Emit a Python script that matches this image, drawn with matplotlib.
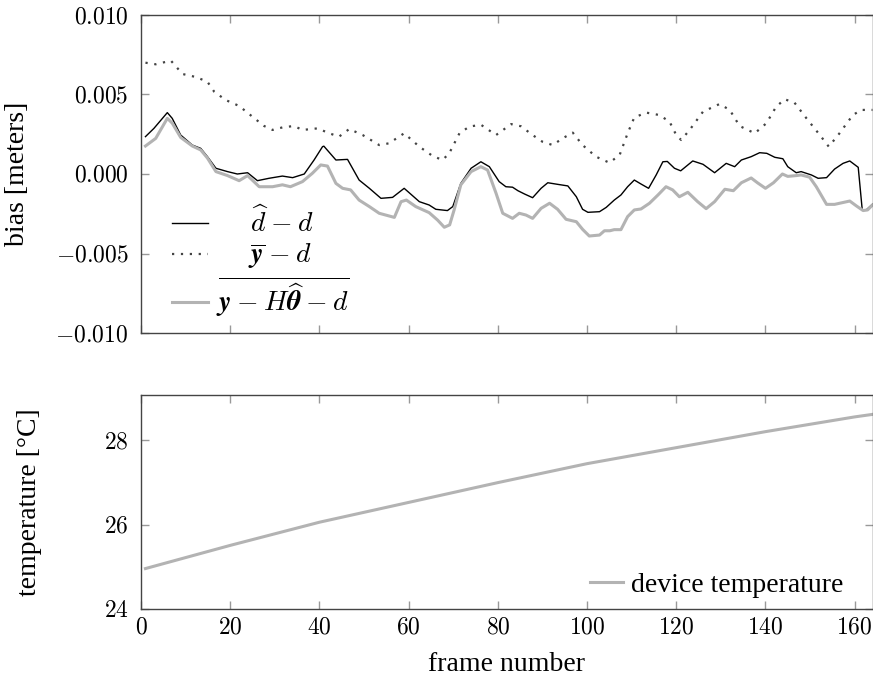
import matplotlib
matplotlib.use('Agg')
import matplotlib.pyplot as plt
from matplotlib.ticker import FuncFormatter, MultipleLocator

# Данные, считанные с графика
# d_hat - d (чёрная линия)
x_dhat = [1.0, 2.9, 5.9, 7.0, 8.9, 11.5, 13.4, 14.9, 16.8, 19.4, 21.6, 23.9, 26.1, 28.7, 31.7,
          34.0, 36.6, 38.8, 40.7, 41.0, 43.7, 46.3, 48.9, 51.2, 53.8, 56.4, 59.0, 62.4, 64.6,
          66.1, 68.7, 69.9, 71.7, 74.0, 76.2, 78.1, 80.3, 81.8, 83.3, 84.5, 86.0, 87.8, 89.7,
          91.2, 93.4, 95.7, 97.6, 99.0, 100.2, 102.8, 104.3, 106.1, 107.6, 109.1, 110.6,
          112.1, 113.8, 115.5, 117.0, 118.0, 119.6, 121.0, 123.7, 126.0, 128.6, 131.2, 133.1,
          134.6, 136.8, 138.7, 140.3, 142.1, 143.9, 145.0, 146.9, 148.0, 150.3, 151.8, 153.7,
          155.5, 157.4, 158.9, 160.8, 161.7, 162.6, 163.8, 164.0]
y_dhat = [0.00235, 0.00287, 0.00386, 0.0035, 0.00245, 0.00182, 0.00161, 0.00109, 0.00036,
          0.00015, 0.0, 0.00008, -0.00042, -0.00027, -0.00013, -0.00023, 0.0, 0.00088,
          0.00172, 0.00175, 0.00088, 0.00092, -0.00038, -0.0009, -0.00153, -0.00147, -0.0009,
          -0.00174, -0.00195, -0.00222, -0.0023, -0.00205, -0.00059, 0.00036, 0.00077,
          0.00046, -0.00048, -0.0008, -0.00083, -0.00105, -0.00126, -0.00149, -0.0009,
          -0.00055, -0.00065, -0.00075, -0.00143, -0.00222, -0.00241, -0.00237, -0.0021,
          -0.00164, -0.00132, -0.0008, -0.00038, -0.00063, -0.0009, -0.00006, 0.00077,
          0.00079, 0.00036, 0.0002, 0.00082, 0.00061, 0.00008, 0.00067, 0.00046, 0.00088,
          0.00109, 0.00134, 0.0013, 0.00105, 0.00096, 0.00046, 0.00008, 0.00015, -0.00006,
          -0.00027, -0.00023, 0.00031, 0.00067, 0.00082, 0.00042, -0.00226, -0.00226,
          -0.00195, -0.0019]

# y_bar - d (пунктир)
x_ybar = [1.0, 3.3, 6.7, 9.3, 12.3, 14.9, 16.4, 19.0, 22.0, 25.0, 27.6, 29.5, 31.7, 34.3,
          36.2, 39.6, 42.2, 44.4, 46.7, 49.7, 53.4, 55.6, 59.0, 62.4, 65.4, 67.6, 69.1, 71.4,
          73.6, 76.2, 79.6, 83.0, 85.2, 87.8, 90.0, 92.3, 94.5, 96.8, 99.0, 102.0, 105.0,
          107.3, 109.1, 110.6, 113.3, 116.2, 118.5, 120.0, 121.1, 123.0, 126.0, 129.7, 132.0,
          134.2, 137.6, 140.2, 142.4, 144.3, 146.5, 149.2, 152.2, 154.2, 156.6, 159.6, 161.5,
          164.0]
y_ybar = [0.0070, 0.0069, 0.00713, 0.00629, 0.0061, 0.0058, 0.00518, 0.00465, 0.00428,
          0.0036, 0.00302, 0.00277, 0.00293, 0.00302, 0.00277, 0.00287, 0.00256, 0.00235,
          0.00283, 0.00245, 0.00182, 0.00193, 0.00256, 0.00172, 0.00113, 0.00088, 0.0013,
          0.00256, 0.00298, 0.0031, 0.00245, 0.00314, 0.0030, 0.00245, 0.00203, 0.00182,
          0.00224, 0.0026, 0.00182, 0.00109, 0.00071, 0.00119, 0.00256, 0.00356, 0.00386,
          0.00371, 0.00329, 0.00245, 0.00214, 0.00277, 0.00392, 0.0044, 0.00403, 0.00302,
          0.00256, 0.00319, 0.00423, 0.0047, 0.00449, 0.0035, 0.00245, 0.00172, 0.00256,
          0.00371, 0.00403, 0.00403]

# y - H*theta_hat - d (серая линия)
x_corr = [1.0, 3.3, 5.9, 7.0, 8.9, 11.5, 13.4, 14.9, 16.8, 19.4, 22.0, 23.9, 26.5, 29.5,
          31.7, 33.5, 36.2, 38.4, 40.3, 41.8, 43.7, 45.2, 47.0, 48.9, 51.2, 53.4, 56.8, 58.3,
          59.5, 61.6, 64.6, 66.5, 68.0, 69.2, 70.2, 71.7, 74.0, 76.2, 77.7, 79.6, 81.1, 83.3,
          84.8, 86.3, 87.8, 89.7, 91.6, 93.4, 95.3, 97.6, 99.0, 100.5, 102.8, 103.9, 105.1,
          106.1, 107.6, 109.1, 110.6, 112.1, 114.0, 115.9, 117.7, 119.2, 120.7, 122.6, 124.8,
          126.7, 128.6, 130.9, 132.8, 134.6, 136.8, 138.2, 140.0, 141.8, 143.8, 145.0, 146.9,
          148.0, 149.9, 151.4, 153.7, 155.5, 158.9, 160.4, 161.9, 162.9, 164.0]
y_corr = [0.00176, 0.00224, 0.0035, 0.0032, 0.0023, 0.00176, 0.00151, 0.0010, 0.00015,
          -0.0001, -0.00042, -0.0001, -0.0008, -0.0008, -0.00068, -0.0008, -0.00048, 0.00004,
          0.00057, 0.0005, -0.00059, -0.0009, -0.0010, -0.00164, -0.00205, -0.00247,
          -0.00273, -0.00174, -0.00164, -0.00205, -0.00243, -0.0029, -0.00335, -0.0032,
          -0.00226, -0.00068, 0.00015, 0.00046, 0.00025, -0.00121, -0.00247, -0.00279,
          -0.00247, -0.00258, -0.00279, -0.00216, -0.00184, -0.00222, -0.00285, -0.0030,
          -0.00348, -0.0039, -0.00384, -0.00357, -0.00357, -0.0035, -0.0035, -0.00268,
          -0.00226, -0.0022, -0.00184, -0.00132, -0.0008, -0.0010, -0.00143, -0.00115,
          -0.00174, -0.00218, -0.00174, -0.00096, -0.00105, -0.00055, -0.00025, -0.00055,
          -0.0009, -0.00055, 0.0, -0.00015, -0.0001, -0.00006, -0.0002, -0.0008, -0.00191,
          -0.00191, -0.0017, -0.00201, -0.0023, -0.00226, -0.00195]

# Температура устройства
x_temp = [1, 20, 40, 60, 80, 100, 120, 140, 160, 164]
y_temp = [24.96, 25.51, 26.06, 26.53, 27.0, 27.45, 27.83, 28.21, 28.56, 28.62]

bias_labels = [r'\widehat{d} \:-\: d',
               r'\overline{\boldsymbol{y}} \:-\: d',
               r'\overline{\boldsymbol{y} \:-\: H\widehat{\boldsymbol{\theta}} \:-\: d}']

plt.rcParams['mathtext.fontset'] = 'cm'
plt.rcParams['font.family'] = 'Liberation Serif'

grey_tick = '#999999'
spine_col = '#444444'
fs = 17      # подписи делений
fs_lab = 20  # подписи осей и легенды


def style_axes(ax):
    ax.tick_params(direction='in', length=6, width=1.0, color=grey_tick,
                   top=True, right=True, labelsize=fs)
    for s in ax.spines.values():
        s.set_color(spine_col)
        s.set_linewidth(1.0)


fig = plt.figure(figsize=(8.73, 6.78), dpi=100)
ax1 = fig.add_axes([141 / 873, 1 - 333 / 678, 731.5 / 873, 318 / 678])
ax2 = fig.add_axes([141 / 873, 1 - 609 / 678, 731.5 / 873, 214 / 678])

# Ширина подписей легенды, чтобы выровнять их по центру (как в pgfplots)
renderer = fig.canvas.get_renderer()


def text_width(s):
    t = fig.text(0, 0, s, fontsize=fs_lab)
    w = t.get_window_extent(renderer).width
    t.remove()
    return w


widths = [text_width('$' + s + '$') for s in bias_labels]
unit = text_width(r'$\hspace{1}d$') - text_width('$d$')
wmax = max(widths)
labels = ['$' + r'\hspace{%.3f}' % ((wmax - w) / 2 / unit) + s + '$' if wmax - w > 0.5
          else '$' + s + '$' for s, w in zip(bias_labels, widths)]

# Верхний график: смещение
ax1.plot(x_dhat, y_dhat, color='black', linewidth=1.0, label=labels[0])
ax1.plot(x_ybar, y_ybar, color='#444444', linewidth=1.6, linestyle=(0, (1, 3)),
         label=labels[1])
ax1.plot(x_corr, y_corr, color='#b3b3b3', linewidth=2.2, label=labels[2])
ax1.set_xlim(0, 164)
ax1.set_ylim(-0.01, 0.01)
ax1.yaxis.set_major_locator(MultipleLocator(0.005))
ax1.xaxis.set_major_locator(MultipleLocator(20))
ax1.yaxis.set_major_formatter(FuncFormatter(lambda v, p: r'$%.3f$' % v))
ax1.set_xticklabels([])
style_axes(ax1)
ax1.tick_params(axis='y', pad=9)
ax1.set_ylabel('bias [meters]', fontsize=fs_lab)
ax1.yaxis.set_label_coords(-0.152, 0.5)
ax1.legend(loc='lower left', bbox_to_anchor=(0.008, -0.035), frameon=False, fontsize=fs_lab,
           handlelength=1.3, handletextpad=0.3, labelspacing=0.12)

# Нижний график: температура
ax2.plot(x_temp, y_temp, color='#b3b3b3', linewidth=2.2, label='device temperature')
ax2.set_xlim(0, 164)
ax2.set_ylim(24, 29.08)
ax2.xaxis.set_major_locator(MultipleLocator(20))
ax2.yaxis.set_major_locator(MultipleLocator(2))
ax2.xaxis.set_major_formatter(FuncFormatter(lambda v, p: r'$%d$' % v))
ax2.yaxis.set_major_formatter(FuncFormatter(lambda v, p: r'$%d$' % v))
style_axes(ax2)
ax2.tick_params(axis='y', pad=9)
ax2.tick_params(axis='x', pad=6)
ax2.set_ylabel('temperature [°C]', fontsize=fs_lab)
ax2.yaxis.set_label_coords(-0.135, 0.5)
ax2.set_xlabel('frame number', fontsize=fs_lab, labelpad=10)
ax2.legend(loc='lower right', bbox_to_anchor=(0.995, -0.065), frameon=False,
           fontsize=fs_lab, handlelength=1.2, handletextpad=0.3)

plt.savefig('out.png', dpi=100)
